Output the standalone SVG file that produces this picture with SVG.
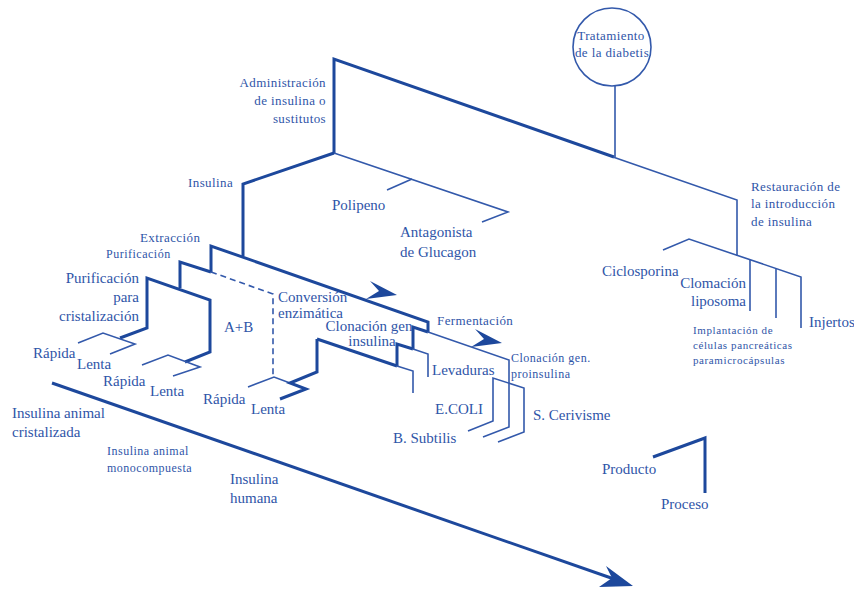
<svg xmlns="http://www.w3.org/2000/svg" width="854" height="590" viewBox="0 0 854 590" font-family="Liberation Serif, Times New Roman, Times, serif">
  <style>
    .k { fill: none; stroke: #1d489c; stroke-width: 3; stroke-linejoin: miter; }
    .n { fill: none; stroke: #3359ab; stroke-width: 1.6; }
    .d { fill: none; stroke: #3359ab; stroke-width: 1.6; stroke-dasharray: 6 4; }
    .h { fill: #1d489c; stroke: none; }
    text { font-family: 'Liberation Serif', 'Times New Roman', Times, serif; fill: #2f55a8; }
    .s15 { font-size: 15px; }
    .s13 { font-size: 13px; letter-spacing: 0.4px; }
    .s12 { font-size: 12px; letter-spacing: 0.5px; }
    .s11 { font-size: 11px; letter-spacing: 0.6px; }
    .end { text-anchor: end; }
    .mid { text-anchor: middle; }
  </style>

  <!-- connectors -->
  <g id="connectors">
    <!-- root stem and main beam -->
    <line class="n" x1="615" y1="86" x2="615" y2="157"/>
    <polyline class="k" points="334,153 334,59 614,157"/>
    <polyline class="n" points="613,157 737,200 737,256"/>
    <!-- restoration branch -->
    <polyline class="n" points="663,250 689,239 801,277 801,328"/>
    <line class="n" x1="750" y1="260" x2="750" y2="311"/>
    <line class="n" x1="776" y1="268" x2="776" y2="318"/>
    <!-- substitutes branch -->
    <polyline class="n" points="334,153 508,212 482,222"/>
    <line class="n" x1="412" y1="179" x2="387" y2="190"/>
    <!-- insulin branch -->
    <polyline class="k" points="334,153 243,184 243,256"/>
    <polyline class="k" points="211,272 211,246 428,322 428,332"/>
    <polyline class="k" points="180,288 180,262 211,272"/>
    <polyline class="d" points="211,272 273,294 273,377"/>
    <polyline class="k" points="120,338 147,328 147,278 210,300 210,352 185,362"/>
    <!-- rápida / lenta splits -->
    <polyline class="n" points="78,343 103,333 135,344 110,354"/>
    <polyline class="n" points="142,365 168,355 200,367 173,376"/>
    <polyline class="n" points="248,387 274,377 290,383"/>
    <polyline class="k" points="317,339 317,372 290,383 306,389 280,399"/>
    <!-- cloning and fermentation steps -->
    <polyline class="k" points="317,339 397,366"/>
    <polyline class="k" points="397,366 397,344 413,349"/>
    <polyline class="k" points="413,349 413,327 428,332"/>
    <polyline class="n" points="428,332 509,360 509,427 483,437"/>
    <polyline class="n" points="413,349 428,354 428,377"/>
    <polyline class="n" points="397,366 413,371 413,393"/>
    <polyline class="n" points="468,431 493,421 493,378 524,388 524,432 498,442"/>
    <!-- direction arrows -->
    <path class="h" d="M370,281 L397,295 L366,299 L379,291 Z"/>
    <path class="h" d="M475,329 L502,343 L471,347 L484,339 Z"/>
    <!-- time axis -->
    <line class="k" x1="52" y1="383" x2="614" y2="579"/>
    <path class="h" d="M606,566 L633,586 L599,587 L612,578 Z"/>
    <!-- legend -->
    <polyline class="k" points="653,457 705,438 705,493"/>
  </g>

  <!-- nodes -->
  <g id="tratamiento">
    <circle cx="612" cy="47" r="39" fill="#ffffff" stroke="#3359ab" stroke-width="1.6"/>
    <text class="s13 mid" x="611" y="40">Tratamiento</text>
    <text class="s13 mid" x="612" y="57">de la diabetis</text>
  </g>
  <g id="administracion">
    <text class="s13 end" x="326" y="87">Administración</text>
    <text class="s13 end" x="326" y="105">de insulina o</text>
    <text class="s13 end" x="326" y="123">sustitutos</text>
  </g>
  <g id="restauracion">
    <text class="s13" x="751" y="191">Restauración de</text>
    <text class="s13" x="751" y="208">la introducción</text>
    <text class="s13" x="751" y="226">de insulina</text>
  </g>
  <g id="ciclosporina">
    <text class="s15" x="602" y="276">Ciclosporina</text>
  </g>
  <g id="clomacion">
    <text class="s15 end" x="746" y="288">Clomación</text>
    <text class="s15 end" x="746" y="306">liposoma</text>
  </g>
  <g id="implantacion">
    <text class="s11" x="693" y="334">Implantación de</text>
    <text class="s11" x="693" y="349">células pancreáticas</text>
    <text class="s11" x="693" y="364">paramicrocápsulas</text>
  </g>
  <g id="injertos">
    <text class="s15" x="809" y="327">Injertos</text>
  </g>
  <g id="polipeno">
    <text class="s15" x="332" y="210">Polipeno</text>
  </g>
  <g id="antagonista">
    <text class="s15" x="400" y="237">Antagonista</text>
    <text class="s15" x="400" y="257">de Glucagon</text>
  </g>
  <g id="insulina">
    <text class="s13" x="188" y="187">Insulina</text>
  </g>
  <g id="extraccion">
    <text class="s13" x="140" y="242">Extracción</text>
  </g>
  <g id="purificacion">
    <text class="s12" x="106" y="258">Purificación</text>
  </g>
  <g id="purificacion-cristalizacion">
    <text class="s15 end" x="139" y="283">Purificación</text>
    <text class="s15 end" x="139" y="302">para</text>
    <text class="s15 end" x="139" y="321">cristalización</text>
  </g>
  <g id="rapida-lenta-1">
    <text class="s15" x="33" y="358">Rápida</text>
    <text class="s15" x="77" y="369">Lenta</text>
  </g>
  <g id="rapida-lenta-2">
    <text class="s15" x="103" y="386">Rápida</text>
    <text class="s15" x="150" y="396">Lenta</text>
  </g>
  <g id="rapida-lenta-3">
    <text class="s15" x="203" y="404">Rápida</text>
    <text class="s15" x="251" y="414">Lenta</text>
  </g>
  <g id="ab">
    <text class="s15" x="224" y="332">A+B</text>
  </g>
  <g id="conversion">
    <text class="s15" x="278" y="302">Conversión</text>
    <text class="s15" x="278" y="318">enzimática</text>
  </g>
  <g id="clonacion-insulina">
    <text class="s15 mid" x="369" y="331">Clonación gen</text>
    <text class="s15 mid" x="372" y="346">insulina</text>
  </g>
  <g id="fermentacion">
    <text class="s13" x="437" y="325">Fermentación</text>
  </g>
  <g id="levaduras">
    <text class="s15" x="432" y="375">Levaduras</text>
  </g>
  <g id="clonacion-proinsulina">
    <text class="s12" x="511" y="362">Clonación gen.</text>
    <text class="s12" x="511" y="378">proinsulina</text>
  </g>
  <g id="ecoli">
    <text class="s15" x="435" y="414">E.COLI</text>
  </g>
  <g id="subtilis">
    <text class="s15" x="393" y="443">B. Subtilis</text>
  </g>
  <g id="cerivisme">
    <text class="s15" x="533" y="420">S. Cerivisme</text>
  </g>
  <g id="insulina-cristalizada">
    <text class="s15" x="12" y="418">Insulina animal</text>
    <text class="s15" x="12" y="437">cristalizada</text>
  </g>
  <g id="insulina-monocompuesta">
    <text class="s12" x="107" y="455">Insulina animal</text>
    <text class="s12" x="107" y="472">monocompuesta</text>
  </g>
  <g id="insulina-humana">
    <text class="s15" x="230" y="484">Insulina</text>
    <text class="s15" x="230" y="503">humana</text>
  </g>
  <g id="producto">
    <text class="s15" x="602" y="474">Producto</text>
  </g>
  <g id="proceso">
    <text class="s15" x="661" y="509">Proceso</text>
  </g>
</svg>
